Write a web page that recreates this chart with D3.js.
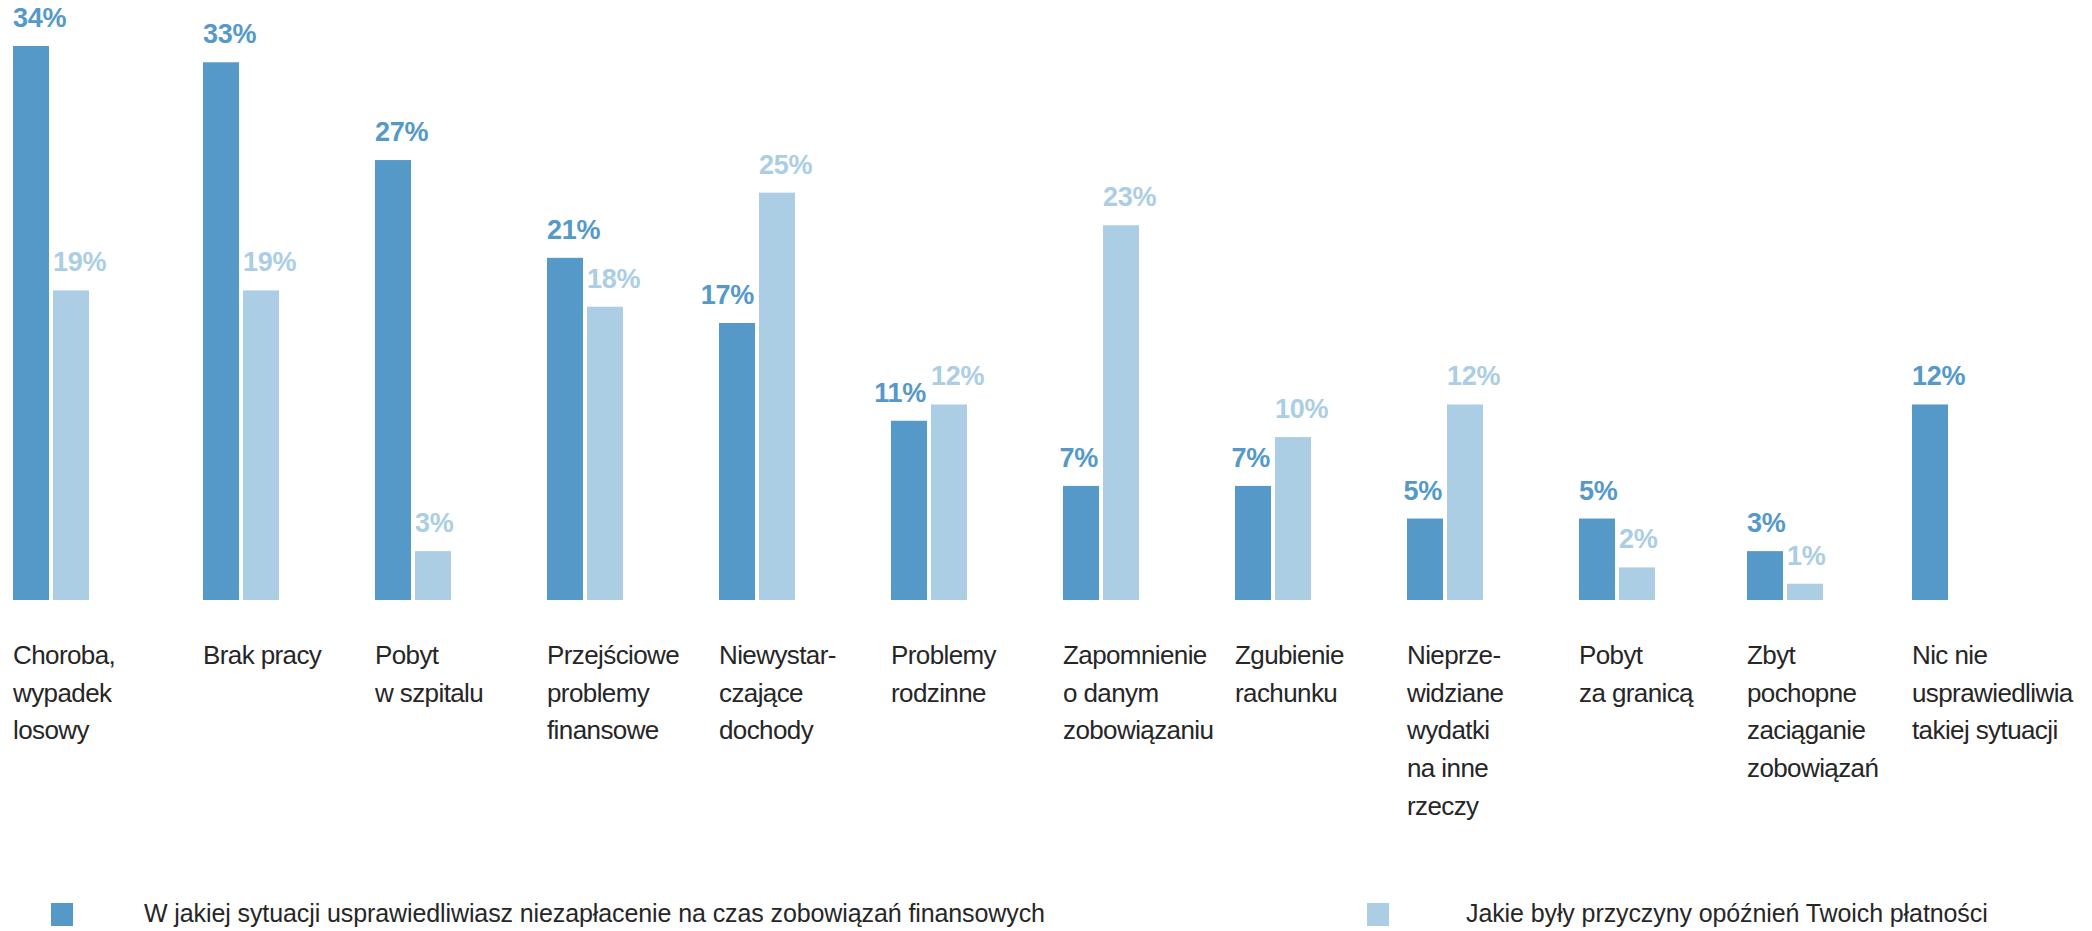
<!DOCTYPE html>
<html>
<head>
<meta charset="utf-8">
<script src="https://cdn.jsdelivr.net/npm/d3@7"></script>
<style>
  body { margin: 0; background: #fff; }
  text { font-family: "Liberation Sans", Arial, sans-serif; }
</style>
</head>
<body>
<div id="chart"></div>
<script>
// kategorie (| = nowa linia)
var kategorie = [
  "Choroba,|wypadek|losowy",
  "Brak pracy",
  "Pobyt|w szpitalu",
  "Przejściowe|problemy|finansowe",
  "Niewystar-|czające|dochody",
  "Problemy|rodzinne",
  "Zapomnienie|o danym|zobowiązaniu",
  "Zgubienie|rachunku",
  "Nieprze-|widziane|wydatki|na inne|rzeczy",
  "Pobyt|za granicą",
  "Zbyt|pochopne|zaciąganie|zobowiązań",
  "Nic nie|usprawiedliwia|takiej sytuacji"
];
// W jakiej sytuacji usprawiedliwiasz...
var usprawiedliwienie = [34, 33, 27, 21, 17, 11, 7, 7, 5, 5, 3, 12];
// Jakie byly przyczyny opoznien...
var przyczyny = [19, 19, 3, 18, 25, 12, 23, 10, 12, 2, 1, null];
var legenda = [
  "W jakiej sytuacji usprawiedliwiasz niezapłacenie na czas zobowiązań finansowych",
  "Jakie były przyczyny opóźnień Twoich płatności"
];

var ciemny = "#5599c9";
var jasny = "#abcee4";
var tekst = "#262626";

var W = 2092, H = 931;
var svg = d3.select("#chart").append("svg").attr("width", W).attr("height", H);

var y = d3.scaleLinear().domain([0, 34]).range([600, 46]);
var x = d3.scaleLinear().domain([0, 1, 9, 10, 11]).range([13, 203, 1579, 1747, 1912]);
var bw = 36, off = 40;

var seria = [
  { dane: usprawiedliwienie, kolor: ciemny, dx: 0, inna: przyczyny },
  { dane: przyczyny, kolor: jasny, dx: off, inna: null }
];

seria.forEach(function(s){
  var g = svg.append("g");
  var d = s.dane.map(function(v, i){ return { v: v, i: i }; }).filter(function(o){ return o.v != null; });
  g.selectAll("rect").data(d).enter().append("rect")
    .attr("x", function(o){ return x(o.i) + s.dx; })
    .attr("y", function(o){ return y(o.v); })
    .attr("width", bw)
    .attr("height", function(o){ return y(0) - y(o.v); })
    .attr("fill", s.kolor);
  // etykieta ciemnej przesunieta w lewo, gdy jasny slupek obok jest podobnej wysokosci lub wyzszy
  function koliduje(o){ return s.inna && s.inna[o.i] != null && s.inna[o.i] >= o.v - 1; }
  g.selectAll("text").data(d).enter().append("text")
    .attr("x", function(o){ return koliduje(o) ? x(o.i) + off - 5 : x(o.i) + s.dx; })
    .attr("text-anchor", function(o){ return koliduje(o) ? "end" : "start"; })
    .attr("y", function(o){ return y(o.v) - 19; })
    .attr("fill", s.kolor)
    .attr("font-size", 27)
    .attr("font-weight", "bold")
    .attr("letter-spacing", -0.3)
    .text(function(o){ return o.v + "%"; });
});

// etykiety kategorii
var et = svg.append("g");
kategorie.forEach(function(k, i){
  var t = et.append("text")
    .attr("x", x(i))
    .attr("y", 664)
    .attr("fill", tekst)
    .attr("font-size", 26)
    .attr("letter-spacing", -0.6);
  k.split("|").forEach(function(l, j){
    t.append("tspan").attr("x", x(i)).attr("dy", j == 0 ? 0 : 37.7).text(l);
  });
});

// legenda
var leg = svg.append("g");
var legX = [51, 1367], legT = [144, 1466];
legenda.forEach(function(l, i){
  leg.append("rect").attr("x", legX[i]).attr("y", 903).attr("width", 22).attr("height", 23)
    .attr("fill", i == 0 ? ciemny : jasny);
  leg.append("text").attr("x", legT[i]).attr("y", 922)
    .attr("fill", tekst).attr("font-size", 25).attr("letter-spacing", -0.1)
    .text(l);
});
</script>
</body>
</html>
